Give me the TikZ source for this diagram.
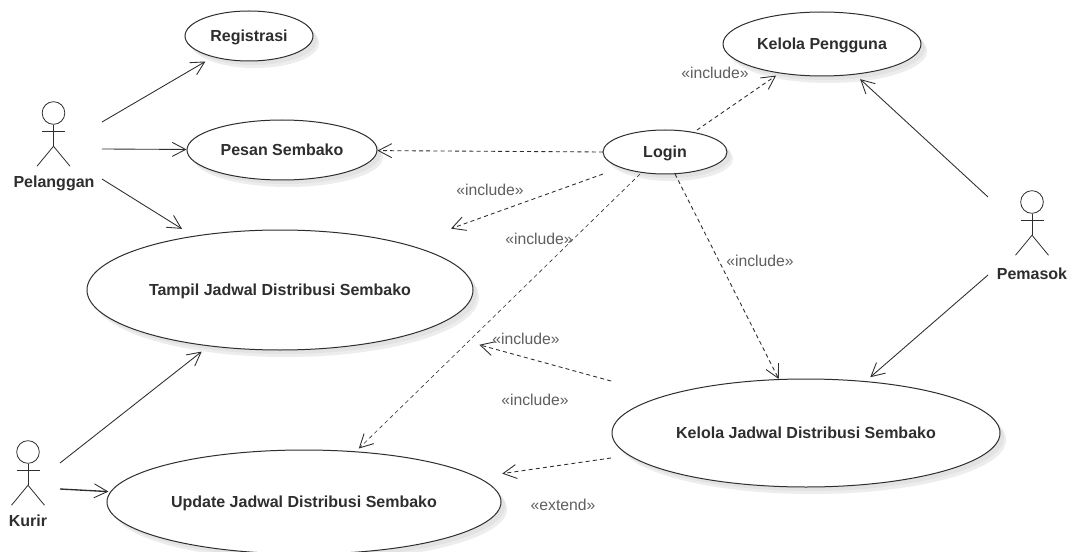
\documentclass[tikz,border=0pt]{standalone}
\usepackage{fontspec}
\setmainfont{Liberation Sans}
\usetikzlibrary{shapes.geometric,arrows.meta}
\definecolor{ink}{HTML}{2E2E2E}
\definecolor{lbl}{HTML}{5F5F5F}
\tikzset{
  x=0.75pt,y=-0.75pt,
  usecase/.style={ellipse,draw=ink,line width=0.75pt,fill=white,inner sep=0pt,text height=9.5pt,text depth=1pt,font=\bfseries\fontsize{12pt}{14pt}\selectfont,text=ink},
  casehalo/.style={fill=black!7,draw=none},
  casecore/.style={fill=black!11,draw=none},
  actorname/.style={font=\bfseries\fontsize{12pt}{14pt}\selectfont,text=ink,inner sep=0pt},
  stickman/.style={draw=ink,line width=0.6pt},
  stereo/.style={font=\fontsize{11.8pt}{14pt}\selectfont,text=lbl,inner sep=0pt},
  assoc/.style={draw=ink,line width=0.65pt,-{Straight Barb[length=10pt,width=10.5pt,line width=0.65pt]}},
  dep/.style={draw=ink,line width=0.65pt,dash pattern=on 3pt off 2.4pt,-{Straight Barb[length=10pt,width=10.5pt,line width=0.65pt]}},
  depthin/.style={dep,line width=0.45pt}
}
\newcommand{\stick}[4]{% x, head y, name, label y
  \node[circle,stickman,minimum size=17pt,inner sep=0pt] (#3head) at (#1,#2) {};
  \draw[stickman] (#3head.south) -- ++(0,21.5);
  \draw[stickman] ([shift={(-11.5,7)}]#3head.south) -- ++(23,0);
  \draw[stickman] ([shift={(-16.5,41.5)}]#3head.south) -- ([shift={(0,21.5)}]#3head.south) -- ([shift={(16.5,41.5)}]#3head.south);
}
\begin{document}
\begin{tikzpicture}
\useasboundingbox (0,0) rectangle (1069,552);
\clip (0,0) rectangle (1069,552);
\fill[white] (0,0) rectangle (1069,552);
% shadows
\foreach \cx/\cy/\rx/\ry in {249/36/64/25,282/150/95/30,280/290/193/60,304/502/197/52,806/433/194/54,822/44/99/32,665/152/62/22}{
  \fill[casehalo] (\cx+6,\cy+7) ellipse [x radius=\rx,y radius=\ry];
  \fill[casecore] (\cx+4,\cy+4) ellipse [x radius=\rx,y radius=\ry];
}
% use cases
\node[usecase,minimum width=96pt,minimum height=37.5pt] (reg) at (249,36) {Registrasi};
\node[usecase,minimum width=142.5pt,minimum height=45pt] (pesan) at (282,150) {Pesan Sembako};
\node[usecase,minimum width=289.5pt,minimum height=90pt] (tampil) at (280,290) {Tampil Jadwal Distribusi Sembako};
\node[usecase,minimum width=295.5pt,minimum height=78pt] (update) at (304,502) {Update Jadwal Distribusi Sembako};
\node[usecase,minimum width=291pt,minimum height=81pt] (jadwal) at (806,433) {Kelola Jadwal Distribusi Sembako};
\node[usecase,minimum width=148.5pt,minimum height=48pt] (pengguna) at (822,44) {Kelola Pengguna};
\node[usecase,minimum width=93pt,minimum height=33pt] (login) at (665,152) {Login};
% actors
\stick{53.5}{113}{pel}{183}
\node[actorname] (pelanggan) at (54,183) {Pelanggan};
\stick{28}{452}{kur}{521}
\node[actorname] (kurir) at (28,521) {Kurir};
\stick{1032}{202}{pem}{274}
\node[actorname] (pemasok) at (1032,274) {Pemasok};
% connector free ends
\coordinate (pelA) at (102,122);
\coordinate (pelB) at (102,149);
\coordinate (pelC) at (102,179);
\coordinate (kurA) at (60,463);
\coordinate (kurB) at (60,489);
\coordinate (pemA) at (988,197);
\coordinate (pemB) at (988,275);
\coordinate (logW) at (603,152);
\coordinate (logN) at (697,130);
\coordinate (logSW) at (603,174);
\coordinate (logS) at (640,174);
\coordinate (logSE) at (675,174);
\coordinate (jadA) at (611,381);
\coordinate (jadB) at (611,458);
% associations
\draw[assoc,shorten >=6.5pt] (pelA) -- (reg);
\draw[assoc] (pelB) -- (pesan);
\draw[assoc,shorten >=10pt] (pelC) -- (tampil);
\draw[assoc,shorten >=6.5pt] (kurA) -- (tampil);
\draw[assoc,line width=1pt,shorten >=1.5pt] (kurB) -- (update);
\draw[assoc,shorten >=5pt] (pemA) -- (pengguna);
\draw[assoc,shorten >=4.5pt] (pemB) -- (jadwal);
% dependencies
\draw[dep] (logW) -- (pesan);
\draw[dep,shorten >=3pt] (logN) -- (pengguna);
\draw[dep,shorten >=35pt] (logSW) -- (tampil);
\draw[depthin,shorten >=3pt] (logS) -- (update);
\draw[dep] (logSE) -- (jadwal);
\draw[dep,shorten >=42pt] (jadA) -- (tampil);
\draw[dep,shorten >=18.5pt] (jadB) -- (update);
% labels
\node[stereo] (s1) at (715,73) {«include»};
\node[stereo] (s2) at (490,190) {«include»};
\node[stereo] (s3) at (539,239) {«include»};
\node[stereo] (s4) at (760,261) {«include»};
\node[stereo] (s5) at (526,339) {«include»};
\node[stereo] (s6) at (535,400) {«include»};
\node[stereo] (s7) at (563,505) {«extend»};
\end{tikzpicture}
\end{document}
